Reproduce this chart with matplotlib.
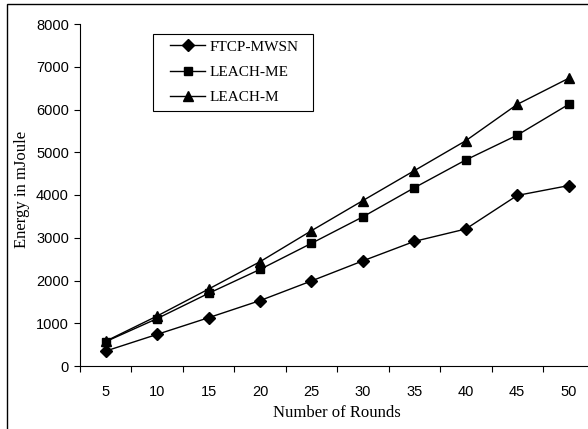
import matplotlib.pyplot as plt
from matplotlib.patches import Rectangle

# data
rounds = [5, 10, 15, 20, 25, 30, 35, 40, 45, 50]
ftcp_mwsn = [350, 740, 1130, 1530, 1990, 2460, 2915, 3205, 3990, 4220]
leach_me = [570, 1110, 1700, 2260, 2870, 3490, 4170, 4820, 5400, 6120]
leach_m = [580, 1170, 1800, 2440, 3165, 3870, 4570, 5270, 6120, 6730]

serif = ['Liberation Serif', 'DejaVu Serif']
sans = ['Liberation Sans', 'DejaVu Sans']

fig = plt.figure(figsize=(5.88, 4.29), dpi=100)
ax = fig.add_axes([80 / 588, 63 / 429, 514.4 / 588, 342 / 429])

pos = list(range(len(rounds)))
ax.plot(pos, ftcp_mwsn, color='black', lw=1, marker='D', ms=6, label='FTCP-MWSN')
ax.plot(pos, leach_me, color='black', lw=1, marker='s', ms=5.5, label='LEACH-ME')
ax.plot(pos, leach_m, color='black', lw=1, marker='^', ms=7, label='LEACH-M')

ax.set_xlim(-0.5, len(rounds) - 0.5)
ax.set_ylim(0, 8000)
ax.set_yticks(range(0, 8001, 1000))
ax.set_xticks(pos)
ax.set_xticklabels([str(r) for r in rounds])
ax.set_xticks([p - 0.5 for p in pos] + [len(rounds) - 0.5], minor=True)
ax.tick_params(axis='x', which='major', length=0, pad=14)
ax.tick_params(axis='x', which='minor', length=4, width=0.8, direction='out')
ax.tick_params(axis='y', length=4, width=0.8, direction='out', pad=4)
for lab in ax.get_xticklabels() + ax.get_yticklabels():
    lab.set_family(sans)
    lab.set_fontsize(10.5)

ax.spines['top'].set_visible(False)
ax.spines['right'].set_visible(False)
ax.spines['left'].set_linewidth(0.8)
ax.spines['bottom'].set_linewidth(0.8)

ax.set_xlabel('Number of Rounds', family=serif, fontsize=12, labelpad=4)
ax.set_ylabel('Energy in mJoule', family=serif, fontsize=12)
ax.yaxis.set_label_coords(-0.097, 0.515)

# legend entries without their own frame; the box is drawn separately to match the reference size
leg = ax.legend(loc='upper left', bbox_to_anchor=(0.175, 0.953), borderaxespad=0,
                prop={'family': serif, 'size': 11}, frameon=False,
                handlelength=2.3, labelspacing=0.75, borderpad=0,
                handletextpad=0.3)
ax.add_patch(Rectangle((0.1419, 0.7456), 0.3111, 0.2254, transform=ax.transAxes,
                       fill=False, edgecolor='black', lw=0.8, zorder=5))

# outer frame of the picture
fig.patches.append(Rectangle((7 / 588, -0.1), 1.2, 1.1 - 4 / 429,
                             transform=fig.transFigure, fill=False,
                             edgecolor='black', lw=1, clip_on=False))

plt.savefig('out.png', dpi=100)
